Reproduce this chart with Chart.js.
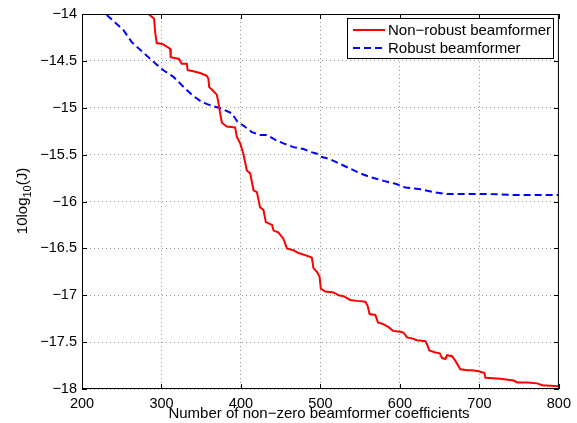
<!DOCTYPE html>
<html lang="en">
<head>
  <meta charset="UTF-8" />
  <title>Beamformer cost vs non-zero coefficients</title>
  <script src="https://cdn.jsdelivr.net/npm/chart.js"></script>
  <style>
    body { margin: 0; background: #fff; }
    #wrap { width: 577px; height: 423px; }
  </style>
</head>
<body>
  <div id="wrap"><canvas id="chart" width="577" height="423"></canvas></div>

  <script>
    // Non-robust beamformer (red, solid)
    const nonRobustX = [283.5, 290.7, 292, 294, 301, 310.8, 311.7, 322, 325.5, 331.8, 333, 340, 348.6, 357, 359, 360, 364, 369.6, 371.7, 373.8, 376, 382, 392.7, 394.8, 399, 403, 407.4, 411.6, 415.8, 420, 424, 428.3, 431.3, 439, 441, 447, 453.5, 457.8, 466, 472.4, 487, 489.2, 491.2, 495.5, 498.8, 500.5, 506, 516.5, 522.8, 529, 537.5, 546, 556.4, 559.3, 561.8, 569, 572.4, 579.5, 585.8, 591.3, 600.5, 604.7, 608.9, 615, 621.4, 632, 634, 637, 644.6, 650, 653, 657.2, 659.3, 665.6, 669.8, 676, 684.5, 690.8, 699, 706.3, 707.6, 726.4, 743, 747.4, 760, 772.6, 779, 800];
    const nonRobustY = [-14, -14.05, -14.19, -14.31, -14.32, -14.37, -14.46, -14.48, -14.53, -14.53, -14.6, -14.61, -14.63, -14.66, -14.69, -14.78, -14.81, -14.86, -14.95, -15.06, -15.16, -15.2, -15.21, -15.31, -15.38, -15.49, -15.67, -15.7, -15.88, -15.9, -16.06, -16.09, -16.22, -16.25, -16.31, -16.33, -16.4, -16.5, -16.52, -16.55, -16.59, -16.6, -16.71, -16.75, -16.8, -16.93, -16.96, -16.97, -17.0, -17.01, -17.05, -17.06, -17.07, -17.11, -17.2, -17.21, -17.29, -17.31, -17.34, -17.38, -17.39, -17.4, -17.45, -17.46, -17.48, -17.49, -17.52, -17.59, -17.61, -17.62, -17.67, -17.68, -17.64, -17.65, -17.7, -17.79, -17.8, -17.8, -17.81, -17.83, -17.88, -17.89, -17.91, -17.93, -17.93, -17.94, -17.96, -17.97];

    // Robust beamformer (blue, dashed)
    const robustX = [231, 241.6, 252, 262.6, 273, 283.5, 294, 302.4, 315, 325.6, 338, 350.8, 363.4, 376, 388.5, 395.6, 403, 413.7, 424, 432.6, 445, 453.5, 466, 478.7, 487, 495.6, 499.7, 512.3, 525, 537.5, 550, 562.7, 579.5, 594.2, 606.8, 625.7, 642.4, 659.3, 684.5, 709.7, 743, 800];
    const robustY = [-14.01, -14.09, -14.17, -14.3, -14.38, -14.46, -14.54, -14.6, -14.67, -14.76, -14.86, -14.94, -14.98, -15.01, -15.06, -15.15, -15.19, -15.26, -15.29, -15.29, -15.35, -15.38, -15.42, -15.44, -15.47, -15.49, -15.52, -15.55, -15.6, -15.65, -15.7, -15.74, -15.78, -15.81, -15.85, -15.87, -15.9, -15.92, -15.92, -15.92, -15.93, -15.93];

    const xTicks = [200, 300, 400, 500, 600, 700, 800];
    const yTicks = [-14, -14.5, -15, -15.5, -16, -16.5, -17, -17.5, -18];

    const seriesNames = ["Non\u2212robust beamformer", "Robust beamformer"];
    const xTitle = "Number of non\u2212zero beamformer coefficients";

    const FONT = "Liberation Sans, Arial, Helvetica, sans-serif";

    function toPoints(xs, ys) {
      return xs.map((x, i) => ({ x: x, y: ys[i] }));
    }

    function minus(v) {
      return String(v).replace("-", "\u2212");
    }

    // frame, inward ticks, axis titles and legend, matlab style
    const decor = {
      id: "decor",
      afterDraw(chart) {
        const ctx = chart.ctx;
        const a = chart.chartArea;
        const xs = chart.scales.x, ys = chart.scales.y;
        ctx.save();
        ctx.strokeStyle = "#000";
        ctx.lineWidth = 1;
        ctx.strokeRect(a.left + 0.5, a.top + 0.5, a.right - a.left - 1, a.bottom - a.top - 1);
        ctx.beginPath();
        xTicks.forEach(t => {
          const px = Math.round(xs.getPixelForValue(t)) + 0.5;
          ctx.moveTo(px, a.bottom); ctx.lineTo(px, a.bottom - 5);
          ctx.moveTo(px, a.top); ctx.lineTo(px, a.top + 5);
        });
        yTicks.forEach(t => {
          const py = Math.round(ys.getPixelForValue(t)) + 0.5;
          ctx.moveTo(a.left, py); ctx.lineTo(a.left + 5, py);
          ctx.moveTo(a.right, py); ctx.lineTo(a.right - 5, py);
        });
        ctx.stroke();

        // x title
        ctx.fillStyle = "#000";
        ctx.font = "15px " + FONT;
        ctx.textAlign = "center";
        ctx.textBaseline = "middle";
        ctx.fillText(xTitle, 319, 414);

        // y title with subscript
        ctx.translate(23, 201);
        ctx.rotate(-Math.PI / 2);
        ctx.textAlign = "left";
        ctx.textBaseline = "middle";
        const big = "15px " + FONT, small = "11px " + FONT;
        ctx.font = big; const w1 = ctx.measureText("10log").width;
        ctx.font = small; const w2 = ctx.measureText("10").width;
        ctx.font = big; const w3 = ctx.measureText("(J)").width;
        let x0 = -(w1 + w2 + w3) / 2;
        ctx.font = big; ctx.fillText("10log", x0, 0);
        ctx.font = small; ctx.fillText("10", x0 + w1, 5);
        ctx.font = big; ctx.fillText("(J)", x0 + w1 + w2, 0);
        ctx.setTransform(1, 0, 0, 1, 0, 0);

        // legend box
        const bx = 347, by = 18, bw = 206, bh = 40;
        ctx.fillStyle = "#fff";
        ctx.fillRect(bx, by, bw, bh);
        ctx.strokeStyle = "#000";
        ctx.strokeRect(bx + 0.5, by + 0.5, bw, bh);
        ctx.font = "15px " + FONT;
        ctx.textAlign = "left";
        chart.data.datasets.forEach((ds, i) => {
          const ly = by + 12 + i * 18;
          ctx.beginPath();
          ctx.strokeStyle = ds.borderColor;
          ctx.lineWidth = 2;
          ctx.setLineDash(ds.borderDash || []);
          ctx.moveTo(bx + 6, ly); ctx.lineTo(bx + 38, ly);
          ctx.stroke();
          ctx.setLineDash([]);
          ctx.fillStyle = "#000";
          ctx.fillText(ds.label, bx + 41, ly + 1);
        });
        ctx.restore();
      }
    };

    new Chart(document.getElementById("chart"), {
      type: "line",
      data: {
        datasets: [
          {
            label: seriesNames[0],
            data: toPoints(nonRobustX, nonRobustY),
            borderColor: "#ff0000",
            borderWidth: 2,
            pointRadius: 0,
            tension: 0,
            fill: false
          },
          {
            label: seriesNames[1],
            data: toPoints(robustX, robustY),
            borderColor: "#0000ff",
            borderWidth: 2,
            borderDash: [7, 4],
            pointRadius: 0,
            tension: 0,
            fill: false
          }
        ]
      },
      options: {
        responsive: false,
        animation: false,
        events: [],
        layout: { padding: { left: 0, right: 18, top: 14, bottom: 0 } },
        plugins: {
          legend: { display: false },
          tooltip: { enabled: false }
        },
        scales: {
          x: {
            type: "linear",
            min: 200, max: 800,
            afterBuildTicks: s => { s.ticks = xTicks.map(v => ({ value: v })); },
            afterFit: s => { s.height = 34; },
            grid: { color: "#999", lineWidth: 1, drawTicks: false },
            border: { display: false, dash: [1, 3] },
            ticks: { color: "#000", font: { family: FONT, size: 14.5 }, padding: 6, maxRotation: 0 }
          },
          y: {
            type: "linear",
            min: -18, max: -14,
            afterBuildTicks: s => { s.ticks = yTicks.map(v => ({ value: v })); },
            afterFit: s => { s.width = 82; },
            grid: { color: "#999", lineWidth: 1, drawTicks: false },
            border: { display: false, dash: [1, 3] },
            ticks: { color: "#000", font: { family: FONT, size: 14.5 }, padding: 5, callback: v => minus(v) }
          }
        }
      },
      plugins: [decor]
    });
  </script>
</body>
</html>
